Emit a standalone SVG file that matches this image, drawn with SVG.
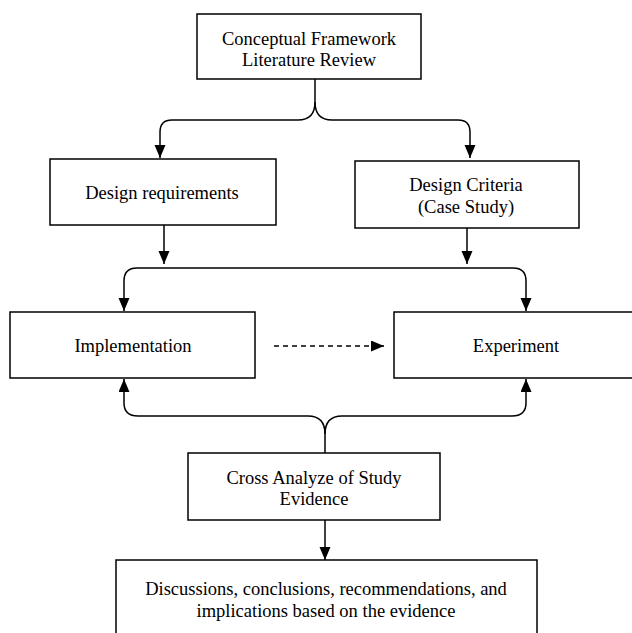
<svg xmlns="http://www.w3.org/2000/svg" width="632" height="633" viewBox="0 0 632 633">
<style>
.box{fill:#fff;stroke:#000;stroke-width:1.5}
.t{font-family:"Liberation Serif","Times New Roman",serif;font-size:18.5px;fill:#000;text-anchor:middle}
.c{fill:none;stroke:#000;stroke-width:1.5}
.d{stroke-dasharray:5 4}
</style>
<defs>
<marker id="ah" markerUnits="userSpaceOnUse" markerWidth="13" markerHeight="12" refX="13" refY="5.5" orient="auto">
<path d="M0,0 L13,5.5 L0,11 z" fill="#000"/>
</marker>
</defs>
<rect width="632" height="633" fill="#fff"/>
<g id="connectors">
<path class="c" d="M315,79 V102 Q315,120 298,120 H172 Q160,120 160,132 V158" marker-end="url(#ah)"/>
<path class="c" d="M315,102 Q315,120 332,120 H458 Q470,120 470,132 V158" marker-end="url(#ah)"/>
<path class="c" d="M164,225 V264" marker-end="url(#ah)"/>
<path class="c" d="M467,228 V264" marker-end="url(#ah)"/>
<path class="c" d="M320,268 H137 Q124,268 124,281 V311" marker-end="url(#ah)"/>
<path class="c" d="M320,268 H513 Q526,268 526,281 V311" marker-end="url(#ah)"/>
<path class="c d" d="M274,346 H384" marker-end="url(#ah)"/>
<path class="c" d="M325,453 V434 Q325,416 308,416 H138 Q124,416 124,403 V379" marker-end="url(#ah)"/>
<path class="c" d="M325,434 Q325,416 342,416 H512 Q526,416 526,403 V379" marker-end="url(#ah)"/>
<path class="c" d="M325,520 V560" marker-end="url(#ah)"/>
</g>
<g id="n1">
<rect class="box" x="197" y="14" width="224" height="65"/>
<text class="t" x="309" y="45">Conceptual Framework</text>
<text class="t" x="309" y="66">Literature Review</text>
</g>
<g id="n2">
<rect class="box" x="50" y="159" width="226" height="66"/>
<text class="t" x="162" y="199">Design requirements</text>
</g>
<g id="n3">
<rect class="box" x="355" y="161" width="224" height="67"/>
<text class="t" x="466" y="191">Design Criteria</text>
<text class="t" x="466" y="213">(Case Study)</text>
</g>
<g id="n4">
<rect class="box" x="10" y="312" width="245" height="66"/>
<text class="t" x="133" y="352">Implementation</text>
</g>
<g id="n5">
<rect class="box" x="394" y="312" width="245" height="66"/>
<text class="t" x="516" y="352">Experiment</text>
</g>
<g id="n6">
<rect class="box" x="188" y="453" width="252" height="67"/>
<text class="t" x="314" y="484">Cross Analyze of Study</text>
<text class="t" x="314" y="505">Evidence</text>
</g>
<g id="n7">
<rect class="box" x="116" y="560" width="421" height="90"/>
<text class="t" x="326" y="595">Discussions, conclusions, recommendations, and</text>
<text class="t" x="326" y="617">implications based on the evidence</text>
</g>
</svg>
